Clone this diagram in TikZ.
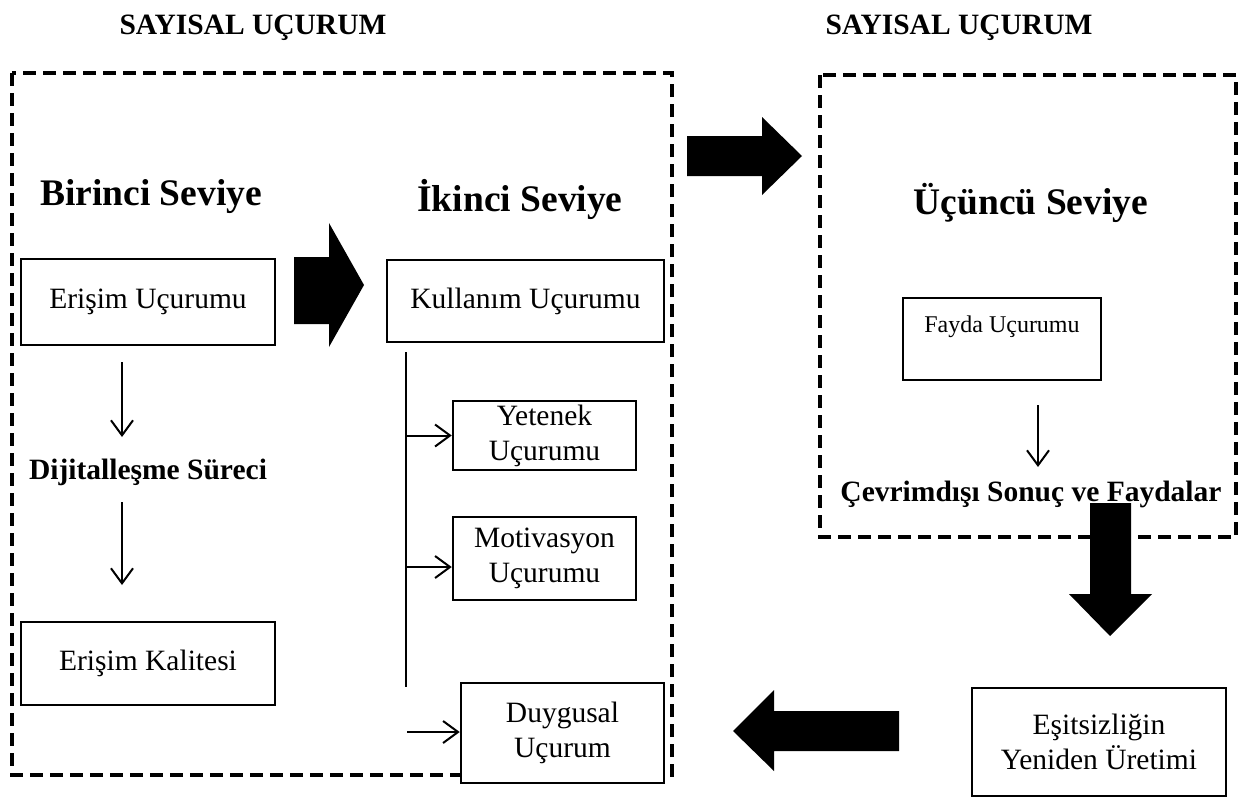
\documentclass[tikz,border=0pt]{standalone}
\usepackage{fontspec}
\setmainfont{Liberation Serif}
\usetikzlibrary{arrows.meta}
\begin{document}
\begin{tikzpicture}[x=1pt,y=-1pt,
  dbox/.style={draw, line width=3.5pt, dash pattern=on 13pt off 7pt},
  sbox/.style={draw, line width=2.5pt, align=center, inner sep=0pt,
    font=\fontsize{29.5}{35}\selectfont},
  txt/.style={inner sep=0pt, font=\fontsize{29.5}{35}\selectfont},
  btxt/.style={inner sep=0pt, font=\fontsize{29.5}{35}\selectfont\bfseries},
  head/.style={inner sep=0pt, font=\fontsize{37.5}{42}\selectfont\bfseries},
  arr/.style={line width=2pt, -{Straight Barb[length=15pt,width=22pt,line width=2pt]}},
  ln/.style={line width=2.5pt},
  block/.style={fill=black, draw=none}
]
\useasboundingbox (0,0) rectangle (1251,798);

% titles
\node[btxt] (t1) at (253,28) {SAYISAL UÇURUM};
\node[btxt] (t2) at (959,28) {SAYISAL UÇURUM};

% dashed frames
\draw[dbox] (12,73) rectangle (672,775);
\draw[dbox] (820,75) rectangle (1236,537);

% headings
\node[head] (h1) at (151,197) {Birinci Seviye};
\node[head] (h2) at (520,199) {İkinci Seviye};
\node[head] (h3) at (1031,203) {Üçüncü Seviye};

% boxes
\node[sbox, minimum width=254pt, minimum height=86pt] (eu) at (148,302) {Erişim Uçurumu};
\node[sbox, minimum width=254pt, minimum height=83pt] (ek) at (148,663.5) {Erişim Kalitesi};
\node[sbox, minimum width=277pt, minimum height=82pt] (ku) at (525.5,301) {Kullanım Uçurumu};
\node[sbox, minimum width=183pt, minimum height=69pt] (ye) at (544.5,435.5) {Yetenek\\Uçurumu};
\node[sbox, minimum width=183pt, minimum height=83pt] (mo) at (544.5,558.5) {Motivasyon\\Uçurumu};
\node[sbox, minimum width=203pt, minimum height=100pt, fill=white] (du) at (562.5,733) {Duygusal\\Uçurum};
\node[sbox, minimum width=198pt, minimum height=82pt] (fa) at (1002,339) {};
\node[txt, font=\fontsize{24}{28}\selectfont] (fat) at (1002,327) {Fayda Uçurumu};
\node[sbox, minimum width=254pt, minimum height=108pt] (es) at (1099,742) {Eşitsizliğin\\Yeniden Üretimi};

% bold labels
\node[btxt] (ds) at (148,472) {Dijitalleşme Süreci};
\node[btxt] (cs) at (1031,494) {Çevrimdışı Sonuç ve Faydalar};

% small arrows left column
\coordinate (a1s) at (122,362);
\coordinate (a1e) at (122,437);
\coordinate (a2s) at (122,502);
\coordinate (a2e) at (122,585);
\draw[arr] (a1s) -- (a1e);
\draw[arr] (a2s) -- (a2e);

% right small arrow
\coordinate (a3s) at (1038,405);
\coordinate (a3e) at (1038,467);
\draw[arr] (a3s) -- (a3e);

% branch line
\coordinate (vt) at (406,352);
\coordinate (vb) at (406,687);
\draw[ln] (vt) -- (vb);
\coordinate (b1) at (406,435.5);
\coordinate (b2) at (406,567);
\coordinate (b3) at (407,732);
\draw[arr] (b1) -- (b1 -| ye.west);
\draw[arr] (b2) -- (b2 -| mo.west);
\draw[arr] (b3) -- (b3 -| du.west);

% block arrows
\fill[block] (294,257) -- (329,257) -- (329,223) -- (364,285) -- (329,347) -- (329,324) -- (294,324) -- cycle;
\fill[block] (687,136) -- (762,136) -- (762,117) -- (802,156) -- (762,195) -- (762,176) -- (687,176) -- cycle;
\fill[block] (1090,503) -- (1131,503) -- (1131,594) -- (1152,594) -- (1110,636) -- (1069,594) -- (1090,594) -- cycle;
\fill[block] (899,711) -- (774,711) -- (774,690) -- (733,731) -- (774,771) -- (774,751) -- (899,751) -- cycle;
\end{tikzpicture}
\end{document}
